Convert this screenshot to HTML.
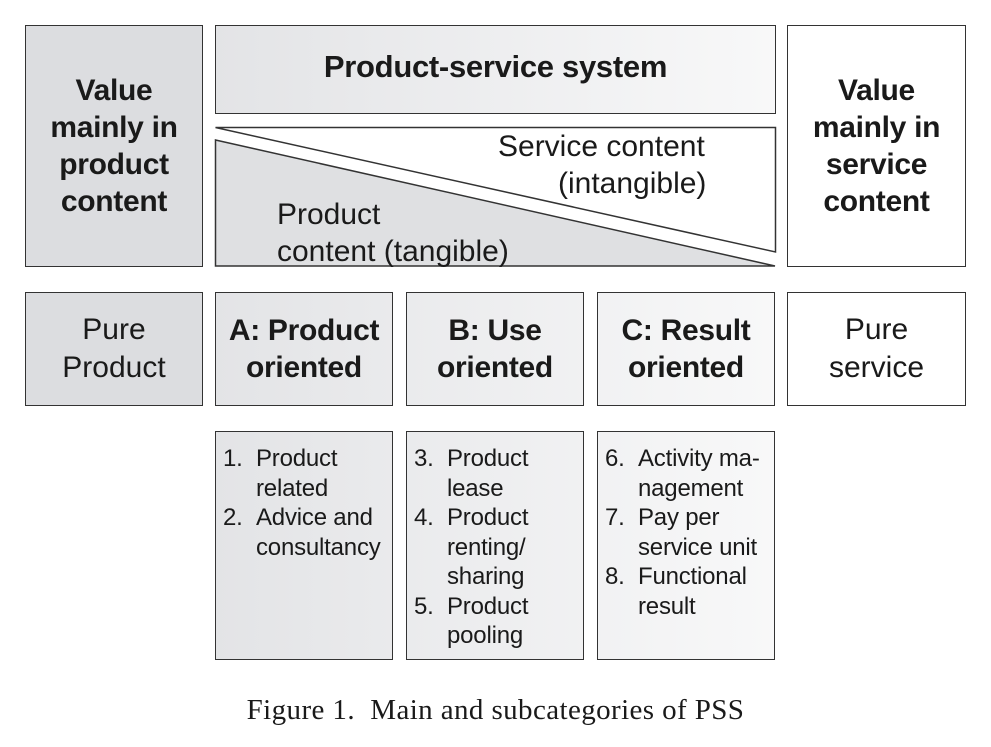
<!DOCTYPE html>
<html><head><meta charset="utf-8"><style>
body{margin:0;width:991px;height:747px;background:#fff;position:relative;overflow:hidden;font-family:"Liberation Sans",Arial,sans-serif;color:#1a1a1a}
.b{position:absolute;box-sizing:border-box;border:1.5px solid #333;background:linear-gradient(90deg,#dcdde0 0px,#dcdde0 25px,#fff 965px);background-attachment:fixed;display:flex;align-items:center;justify-content:center;text-align:center}
.bold{font-weight:bold;font-size:30px;line-height:37px;letter-spacing:-0.3px}
.reg{font-size:30px;line-height:38px}
.list{display:block;text-align:left;font-size:24px;line-height:29.5px;padding:12px 0 0 7px;white-space:nowrap;letter-spacing:-0.2px}
.list div{position:relative;padding-left:33px}
.list span{position:absolute;left:0;top:0}
.t{position:absolute;font-size:30px;line-height:37px;white-space:nowrap}
</style></head><body>
<div class="b bold" style="left:25px;top:25px;width:178px;height:242px;background:#dcdde0">Value<br>mainly in<br>product<br>content</div>
<div class="b bold" style="left:215px;top:25px;width:561px;height:89px;padding-bottom:6px;font-size:31px">Product-service system</div>
<div class="b bold" style="left:787px;top:25px;width:179px;height:242px;background:#fff">Value<br>mainly in<br>service<br>content</div>
<svg style="position:absolute;left:0;top:0" width="991" height="300">
<polygon points="215.5,127.5 775.5,127.5 775.5,252" fill="#fff" stroke="#333" stroke-width="1.5"/>
<polygon points="215.5,140 775,266 215.5,266" fill="#dfe0e2" stroke="#333" stroke-width="1.5"/>
</svg>
<div class="t" style="left:498px;top:128px">Service content</div>
<div class="t" style="left:558px;top:165px">(intangible)</div>
<div class="t" style="left:277px;top:196px">Product</div>
<div class="t" style="left:277px;top:233px">content (tangible)</div>
<div class="b reg" style="left:25px;top:292px;width:178px;height:114px;background:#dcdde0">Pure<br>Product</div>
<div class="b bold" style="left:215px;top:292px;width:178px;height:114px">A: Product<br>oriented</div>
<div class="b bold" style="left:406px;top:292px;width:178px;height:114px">B: Use<br>oriented</div>
<div class="b bold" style="left:597px;top:292px;width:178px;height:114px">C: Result<br>oriented</div>
<div class="b reg" style="left:787px;top:292px;width:179px;height:114px;background:#fff">Pure<br>service</div>
<div class="b list" style="left:215px;top:431px;width:178px;height:229px"><div><span>1.</span>Product<br>related</div><div><span>2.</span>Advice and<br>consultancy</div></div>
<div class="b list" style="left:406px;top:431px;width:178px;height:229px"><div><span>3.</span>Product<br>lease</div><div><span>4.</span>Product<br>renting/<br>sharing</div><div><span>5.</span>Product<br>pooling</div></div>
<div class="b list" style="left:597px;top:431px;width:178px;height:229px"><div><span>6.</span>Activity ma-<br>nagement</div><div><span>7.</span>Pay per<br>service unit</div><div><span>8.</span>Functional<br>result</div></div>
<div style="position:absolute;left:0;width:991px;top:694px;text-align:center;font-family:'Liberation Serif',serif;font-size:29px;letter-spacing:0.4px;white-space:nowrap">Figure 1.&nbsp; Main and subcategories of PSS</div>
</body></html>
